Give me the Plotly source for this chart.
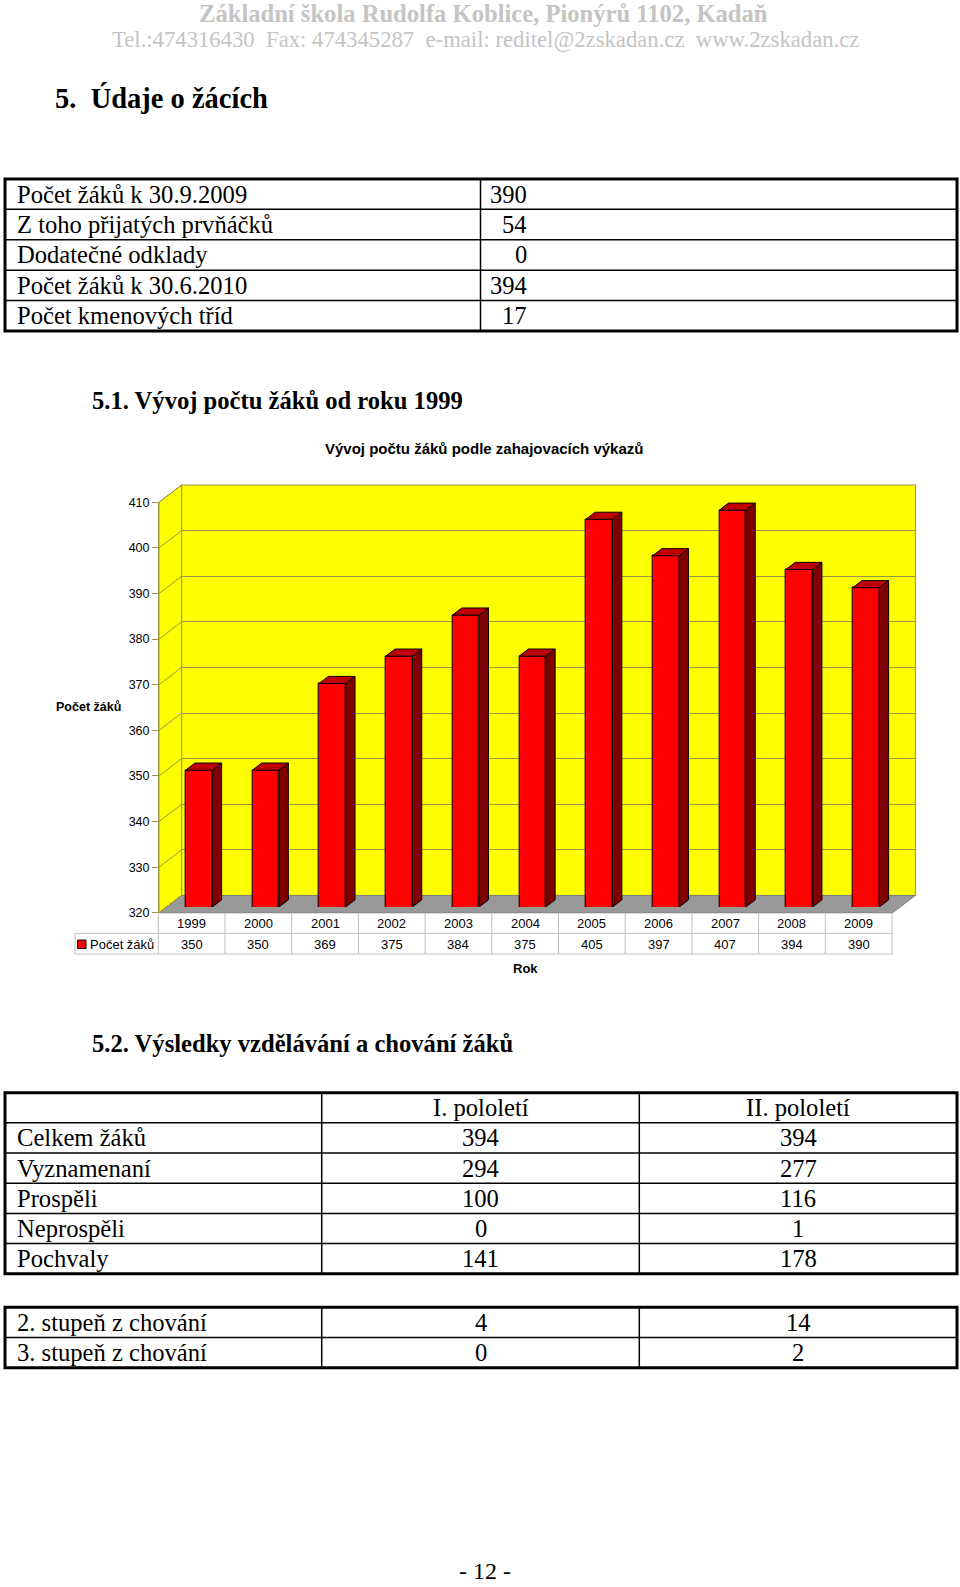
import plotly.graph_objects as go

W, H = 960, 1587

# ---------------- data ----------------
years = [1999, 2000, 2001, 2002, 2003, 2004, 2005, 2006, 2007, 2008, 2009]
pupils = [350, 350, 369, 375, 384, 375, 405, 397, 407, 394, 390]
ytick_vals = [320, 330, 340, 350, 360, 370, 380, 390, 400, 410]

table1_labels = ["Počet žáků k 30.9.2009", "Z toho přijatých prvňáčků", "Dodatečné odklady",
                 "Počet žáků k 30.6.2010", "Počet kmenových tříd"]
table1_values = ["390", "54", "0", "394", "17"]

table2_header = ["I. pololetí", "II. pololetí"]
table2_labels = ["Celkem žáků", "Vyznamenaní", "Prospěli", "Neprospěli", "Pochvaly"]
table2_first = [394, 294, 100, 0, 141]
table2_second = [394, 277, 116, 1, 178]

table3_labels = ["2. stupeň z chování", "3. stupeň z chování"]
table3_first = [4, 0]
table3_second = [14, 2]

# ---------------- helpers ----------------
# page pixel -> paper coordinates (with a small vertical calibration)
V_OFF, V_SCALE = 7.1, 0.991

def X(p):
    return p / W

def Y(p):
    q = (p - V_OFF) / V_SCALE
    return 1 - q / H

SERIF = "Liberation Serif"
SANS = "Liberation Sans"

annotations = []
shapes = []

def text(x, y, s, size, family=SERIF, color="black", xanchor="left", height=None):
    a = dict(x=X(x), y=Y(y), xref="paper", yref="paper", text=s,
             showarrow=False, xanchor=xanchor, yanchor="middle",
             font=dict(family=family, size=size, color=color))
    if height is not None:
        a["height"] = height
    annotations.append(a)

def line(x0, y0, x1, y1, color="black", width=1.0, layer="above"):
    shapes.append(dict(type="line", xref="paper", yref="paper", x0=X(x0), y0=Y(y0),
                       x1=X(x1), y1=Y(y1), line=dict(color=color, width=width), layer=layer))

def poly(pts, fill, color, width=1.0):
    d = "M " + " L ".join(f"{X(a):.5f},{Y(b):.5f}" for a, b in pts) + " Z"
    shapes.append(dict(type="path", xref="paper", yref="paper", path=d, fillcolor=fill,
                       line=dict(color=color, width=width), layer="below"))

# ---------------- page header ----------------
NB = "\u00a0"
text(483, 14, "<b>Základní škola Rudolfa Koblice, Pionýrů 1102, Kadaň</b>", 24.6, color="#c4c4c4", xanchor="center")
text(485, 40, f"Tel.:474316430{NB}{NB}Fax: 474345287{NB}{NB}e-mail: reditel@2zskadan.cz{NB}{NB}www.2zskadan.cz",
     22.7, color="#c4c4c4", xanchor="center")
text(53, 98, f"<b>5.{NB}{NB}Údaje o žácích</b>", 28.5)

# ---------------- table 1 ----------------
T1_TOP, T1_BOT, T1_L, T1_R, T1_MID = 179, 331, 5, 957, 480.5
rh1 = (T1_BOT - T1_TOP) / len(table1_labels)
for i, (lab, val) in enumerate(zip(table1_labels, table1_values)):
    cy = T1_TOP + rh1 * (i + 0.5)
    text(15, cy, lab, 24.6)
    text(529, cy, val, 24.6, xanchor="right")
    if i > 0:
        line(T1_L, T1_TOP + rh1 * i, T1_R, T1_TOP + rh1 * i, width=1.5)
line(T1_MID, T1_TOP, T1_MID, T1_BOT, width=1.5)
shapes.append(dict(type="rect", xref="paper", yref="paper", x0=X(T1_L), y0=Y(T1_BOT), x1=X(T1_R), y1=Y(T1_TOP),
                   line=dict(color="black", width=3)))

text(90, 401, "<b>5.1. Vývoj počtu žáků od roku 1999</b>", 24.6)

# ---------------- chart geometry ----------------
FX0, FX1 = 159.0, 892.7       # front edge (x)
FY0 = 912.7                   # front y of value 320
PXU = 4.56                    # px per unit
DX, DY = 22.7, 17.3           # 3D depth offset
BX0, BX1 = FX0 + DX, FX1 + DX
BY0 = FY0 - DY
SPAN = (ytick_vals[-1] - ytick_vals[0]) * PXU
WALL = "#ffff00"
GRID = "#9c9446"

poly([(FX0, FY0), (FX0, FY0 - SPAN), (BX0, BY0 - SPAN), (BX0, BY0)], WALL, GRID)
poly([(BX0, BY0), (BX0, BY0 - SPAN), (BX1, BY0 - SPAN), (BX1, BY0)], WALL, GRID)
poly([(FX0, FY0), (FX1, FY0), (BX1, BY0), (BX0, BY0)], "#999999", "#7f7f7f")
for v in ytick_vals:
    off = (v - ytick_vals[0]) * PXU
    shapes.append(dict(type="line", xref="paper", yref="paper", x0=X(FX0), y0=Y(FY0 - off),
                       x1=X(BX0), y1=Y(BY0 - off), line=dict(color=GRID, width=1), layer="below"))

# bar plane (front face of the bars sits inside the depth)
BAR_X0, COLW = 165.65, 66.7
BAR_Y0 = FY0 - 5.8
bar_w = 0.4
dxu = 9.3 / COLW
dyu = 7.1 / PXU

fig = go.Figure()

# empty traces so that every subplot is created
fig.add_trace(go.Scatter(x=[], y=[], xaxis="x", yaxis="y", showlegend=False, hoverinfo="skip"))
fig.add_trace(go.Scatter(x=[], y=[], xaxis="x2", yaxis="y2", showlegend=False, hoverinfo="skip"))

fig.add_trace(go.Bar(x=years, y=pupils, xaxis="x3", yaxis="y3", width=bar_w,
                     marker=dict(color="#ff0000", line=dict(color="black", width=1)),
                     showlegend=False, name="Počet žáků"))

side_x, side_y, top_x, top_y = [], [], [], []
lo = ytick_vals[0]
for yr, v in zip(years, pupils):
    r = yr + bar_w / 2
    l = yr - bar_w / 2
    side_x += [r, r + dxu, r + dxu, r, r, None]
    side_y += [lo, lo + dyu, v + dyu, v, lo, None]
    top_x += [l, r, r + dxu, l + dxu, l, None]
    top_y += [v, v, v + dyu, v + dyu, v, None]

fig.add_trace(go.Scatter(x=side_x, y=side_y, xaxis="x3", yaxis="y3", mode="lines", fill="toself",
                         fillcolor="#800000", line=dict(color="black", width=1), showlegend=False,
                         hoverinfo="skip", cliponaxis=False))
fig.add_trace(go.Scatter(x=top_x, y=top_y, xaxis="x3", yaxis="y3", mode="lines", fill="toself",
                         fillcolor="#c00000", line=dict(color="black", width=1), showlegend=False,
                         hoverinfo="skip", cliponaxis=False))

yr_range = [ytick_vals[0], ytick_vals[-1]]

# ---------------- data table under the chart ----------------
TG = "#c0c0c0"
R1_TOP, R1_BOT, R2_BOT = FY0, 933.3, 954.0
LAB_X0 = 75
for i, (yr, v) in enumerate(zip(years, pupils)):
    cx = FX0 + COLW * (i + 0.5) - 0.7
    text(cx, (R1_TOP + R1_BOT) / 2 + 0.5, str(yr), 13, family=SANS, xanchor="center")
    text(cx, (R1_BOT + R2_BOT) / 2 + 0.5, str(v), 13, family=SANS, xanchor="center")
for i in range(len(years) + 1):
    xx = FX0 - 0.7 + COLW * i
    line(xx, R1_TOP, xx, R2_BOT, color=TG, width=1)
line(LAB_X0, R1_BOT, FX1, R1_BOT, color=TG, width=1)
line(LAB_X0, R2_BOT, FX1, R2_BOT, color=TG, width=1)
line(LAB_X0, R1_BOT, LAB_X0, R2_BOT, color=TG, width=1)
shapes.append(dict(type="rect", xref="paper", yref="paper", x0=X(77.5), y0=Y(948.5), x1=X(86), y1=Y(940),
                   fillcolor="#ff0000", line=dict(color="black", width=1)))
text(88, 944, "Počet žáků", 13, family=SANS)

text(483.5, 449, "<b>Vývoj počtu žáků podle zahajovacích výkazů</b>", 15, family=SANS, xanchor="center")
text(88.5, 707, "<b>Počet žáků</b>", 12.5, family=SANS, xanchor="center")
text(525, 968, "<b>Rok</b>", 13, family=SANS, xanchor="center")

# ---------------- section 5.2 ----------------
text(90, 1043, "<b>5.2. Výsledky vzdělávání a chování žáků</b>", 24.6)

T2_TOP, T2_BOT, T_L, T_R, C1, C2 = 1092.6, 1273.6, 5, 957, 321.7, 639.3
rh2 = (T2_BOT - T2_TOP) / (len(table2_labels) + 1)
cx1, cx2 = (C1 + C2) / 2, (C2 + T_R) / 2
text(cx1, T2_TOP + rh2 * 0.5, table2_header[0], 24.6, xanchor="center")
text(cx2, T2_TOP + rh2 * 0.5, table2_header[1], 24.6, xanchor="center")
for i, (lab, a, b) in enumerate(zip(table2_labels, table2_first, table2_second)):
    cy = T2_TOP + rh2 * (i + 1.5)
    text(15, cy, lab, 24.6)
    text(cx1, cy, str(a), 24.6, xanchor="center")
    text(cx2, cy, str(b), 24.6, xanchor="center")
for i in range(1, len(table2_labels) + 1):
    line(T_L, T2_TOP + rh2 * i, T_R, T2_TOP + rh2 * i, width=1.5)
line(C1, T2_TOP, C1, T2_BOT, width=1.5)
line(C2, T2_TOP, C2, T2_BOT, width=1.5)
shapes.append(dict(type="rect", xref="paper", yref="paper", x0=X(T_L), y0=Y(T2_BOT), x1=X(T_R), y1=Y(T2_TOP),
                   line=dict(color="black", width=3)))

T3_TOP, T3_BOT = 1307.0, 1367.7
rh3 = (T3_BOT - T3_TOP) / len(table3_labels)
for i, (lab, a, b) in enumerate(zip(table3_labels, table3_first, table3_second)):
    cy = T3_TOP + rh3 * (i + 0.5)
    text(15, cy, lab, 24.6)
    text(cx1, cy, str(a), 24.6, xanchor="center")
    text(cx2, cy, str(b), 24.6, xanchor="center")
line(T_L, T3_TOP + rh3, T_R, T3_TOP + rh3, width=1.5)
line(C1, T3_TOP, C1, T3_BOT, width=1.5)
line(C2, T3_TOP, C2, T3_BOT, width=1.5)
shapes.append(dict(type="rect", xref="paper", yref="paper", x0=X(T_L), y0=Y(T3_BOT), x1=X(T_R), y1=Y(T3_TOP),
                   line=dict(color="black", width=3)))

text(485, 1571, "- 12 -", 24, xanchor="center", height=18)

# ---------------- layout ----------------
fig.update_layout(
    width=W, height=H, margin=dict(l=0, r=0, t=0, b=0),
    paper_bgcolor="white", plot_bgcolor="rgba(0,0,0,0)",
    showlegend=False, bargap=0,
    # back wall (grid lines)
    xaxis=dict(domain=[X(BX0), X(BX1)], range=[0, 1], visible=False, anchor="y", fixedrange=True),
    yaxis=dict(domain=[Y(BY0), Y(BY0 - SPAN)], range=yr_range, anchor="x", tickmode="array",
               tickvals=ytick_vals, showticklabels=False, ticks="", showgrid=True, gridcolor=GRID,
               gridwidth=1, zeroline=False, showline=False, fixedrange=True),
    # front axis with tick labels
    xaxis2=dict(domain=[X(FX0), X(FX1)], range=[0, 1], visible=False, anchor="y2", fixedrange=True),
    yaxis2=dict(domain=[Y(FY0), Y(FY0 - SPAN)], range=yr_range, anchor="x2", tickmode="array",
                tickvals=ytick_vals, ticks="outside", ticklen=6, tickcolor=GRID, showline=True,
                linecolor=GRID, linewidth=1, showgrid=False, zeroline=False,
                tickfont=dict(family=SANS, size=12.5, color="black"), fixedrange=True),
    # bars
    xaxis3=dict(domain=[X(BAR_X0), X(BAR_X0 + COLW * len(years))], range=[years[0] - 0.5, years[-1] + 0.5],
                visible=False, anchor="y3", fixedrange=True),
    yaxis3=dict(domain=[Y(BAR_Y0), Y(BAR_Y0 - SPAN)], range=yr_range, visible=False, anchor="x3",
                fixedrange=True),
    shapes=shapes, annotations=annotations,
)

fig.write_html("out.html", config={"displayModeBar": False},
               post_script="document.body.style.margin='0';document.body.style.overflow='hidden';")
